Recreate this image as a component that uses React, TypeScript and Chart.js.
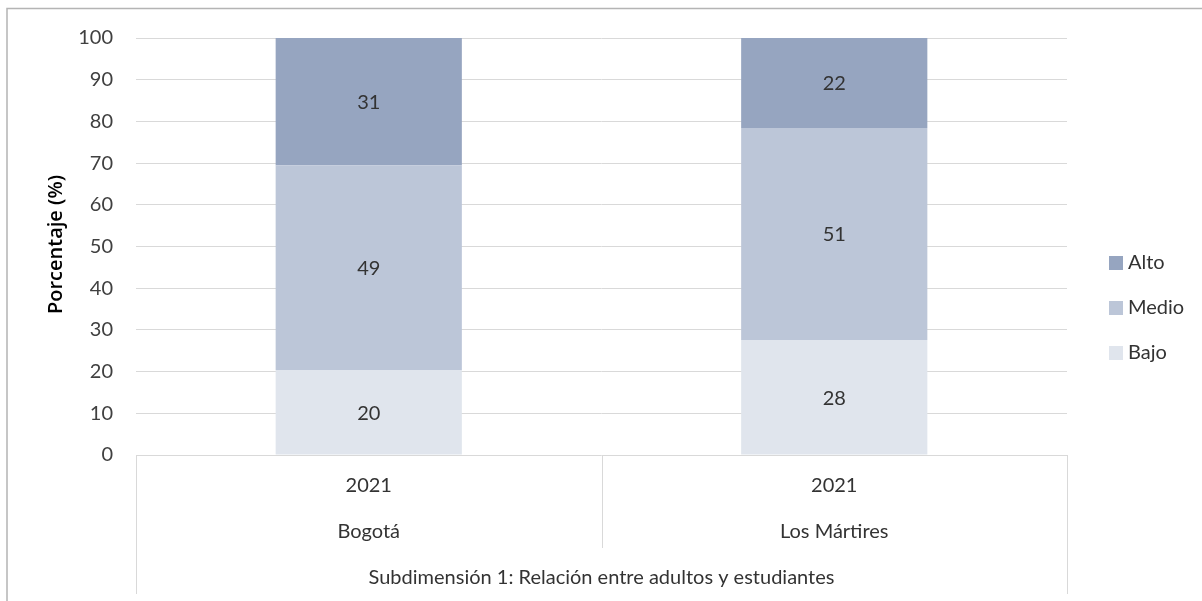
import React, { useEffect, useRef } from "react";
import { Chart, registerables } from "chart.js";

Chart.register(...registerables);

const categories = ["Bogotá", "Los Mártires"];
const years = ["2021", "2021"];
const groupTitle = "Subdimensión 1: Relación entre adultos y estudiantes";
const bajo = [20.4, 27.6];
const medio = [49.1, 50.8];
const alto = [30.5, 21.6];
const seriesNames = ["Bajo", "Medio", "Alto"];
const seriesColors = ["#E0E5ED", "#BCC6D8", "#96A5C0"];
const yTicks = [0, 10, 20, 30, 40, 50, 60, 70, 80, 90, 100];
const yTitle = "Porcentaje (%)";

const FONT = "Lato, 'Open Sans', sans-serif";
const TEXT = "#333333";
const GRID = "#D9D9D9";

const overlay = {
  id: "overlay",
  afterDraw(chart: any) {
    const ctx = chart.ctx;
    const area = chart.chartArea;
    const xs = chart.scales.x;
    ctx.save();

    // outer frame (top + left)
    ctx.strokeStyle = "#B4B4B4";
    ctx.lineWidth = 1.5;
    ctx.beginPath();
    ctx.moveTo(7, 601);
    ctx.lineTo(7, 8.5);
    ctx.lineTo(1202, 8.5);
    ctx.stroke();

    // data labels
    ctx.font = `20px ${FONT}`;
    ctx.fillStyle = TEXT;
    ctx.textAlign = "center";
    ctx.textBaseline = "middle";
    chart.data.datasets.forEach((ds: any, di: number) => {
      const meta = chart.getDatasetMeta(di);
      meta.data.forEach((el: any, i: number) => {
        const v = ds.data[i];
        ctx.fillText(String(Math.round(v)), el.x, (el.y + el.base) / 2 + 1);
      });
    });

    // multi-level category axis
    const centers = categories.map((_, i) => xs.getPixelForValue(i));
    const mid = (centers[0] + centers[1]) / 2;
    ctx.strokeStyle = GRID;
    ctx.lineWidth = 1;
    ctx.beginPath();
    ctx.moveTo(Math.round(area.left) + 0.5, area.bottom);
    ctx.lineTo(Math.round(area.left) + 0.5, 594);
    ctx.moveTo(Math.round(mid) + 0.5, area.bottom);
    ctx.lineTo(Math.round(mid) + 0.5, 548);
    ctx.moveTo(Math.round(area.right) + 0.5, area.bottom);
    ctx.lineTo(Math.round(area.right) + 0.5, 594);
    ctx.stroke();

    ctx.fillStyle = TEXT;
    ctx.font = `20px ${FONT}`;
    centers.forEach((cx: number, i: number) => {
      ctx.fillText(years[i], cx, 486);
      ctx.fillText(categories[i], cx, 532);
    });
    ctx.fillText(groupTitle, (area.left + area.right) / 2, 578);

    // y-axis title
    ctx.save();
    ctx.translate(56, (area.top + area.bottom) / 2 - 2);
    ctx.rotate(-Math.PI / 2);
    ctx.font = `600 20px 'Open Sans', sans-serif`;
    ctx.fillStyle = "#000000";
    ctx.fillText(yTitle, 0, 0);
    ctx.restore();

    // legend (reverse order)
    const order = [2, 1, 0];
    const legendY = [263, 308, 353];
    ctx.textAlign = "left";
    ctx.font = `20px ${FONT}`;
    order.forEach((si, k) => {
      const cy = legendY[k];
      ctx.fillStyle = seriesColors[si];
      ctx.fillRect(1109, cy - 7, 14, 14);
      ctx.fillStyle = TEXT;
      ctx.fillText(seriesNames[si], 1128, cy);
    });

    ctx.restore();
  },
};

export default function App() {
  const ref = useRef<HTMLCanvasElement | null>(null);
  useEffect(() => {
    if (!ref.current) return;
    const chart = new Chart(ref.current, {
      type: "bar",
      data: {
        labels: categories,
        datasets: [
          { label: seriesNames[0], data: bajo, backgroundColor: seriesColors[0] },
          { label: seriesNames[1], data: medio, backgroundColor: seriesColors[1] },
          { label: seriesNames[2], data: alto, backgroundColor: seriesColors[2] },
        ],
      },
      options: {
        responsive: false,
        animation: false,
        layout: { padding: { top: 38, right: 135, left: 0, bottom: 0 } },
        datasets: { bar: { categoryPercentage: 1, barPercentage: 0.4 } } as any,
        plugins: { legend: { display: false }, tooltip: { enabled: false } },
        scales: {
          x: {
            stacked: true,
            grid: { display: false },
            border: { display: false },
            ticks: { display: false },
            afterFit: (s: any) => {
              s.height = 146;
            },
          },
          y: {
            stacked: true,
            min: 0,
            max: 100,
            afterBuildTicks: (s: any) => {
              s.ticks = yTicks.map((v) => ({ value: v }));
            },
            grid: { color: GRID, lineWidth: 1, drawTicks: false },
            border: { display: false },
            ticks: {
              padding: 23,
              color: "#404040",
              font: { family: FONT, size: 20 },
            },
            afterFit: (s: any) => {
              s.width = 136;
            },
          },
        },
      },
      plugins: [overlay],
    });
    return () => chart.destroy();
  }, []);
  return (
    <div style={{ position: "absolute", left: 0, top: 0, width: 1202, height: 601, background: "#fff" }}>
      <canvas ref={ref} width={1202} height={601} style={{ display: "block" }} />
    </div>
  );
}
